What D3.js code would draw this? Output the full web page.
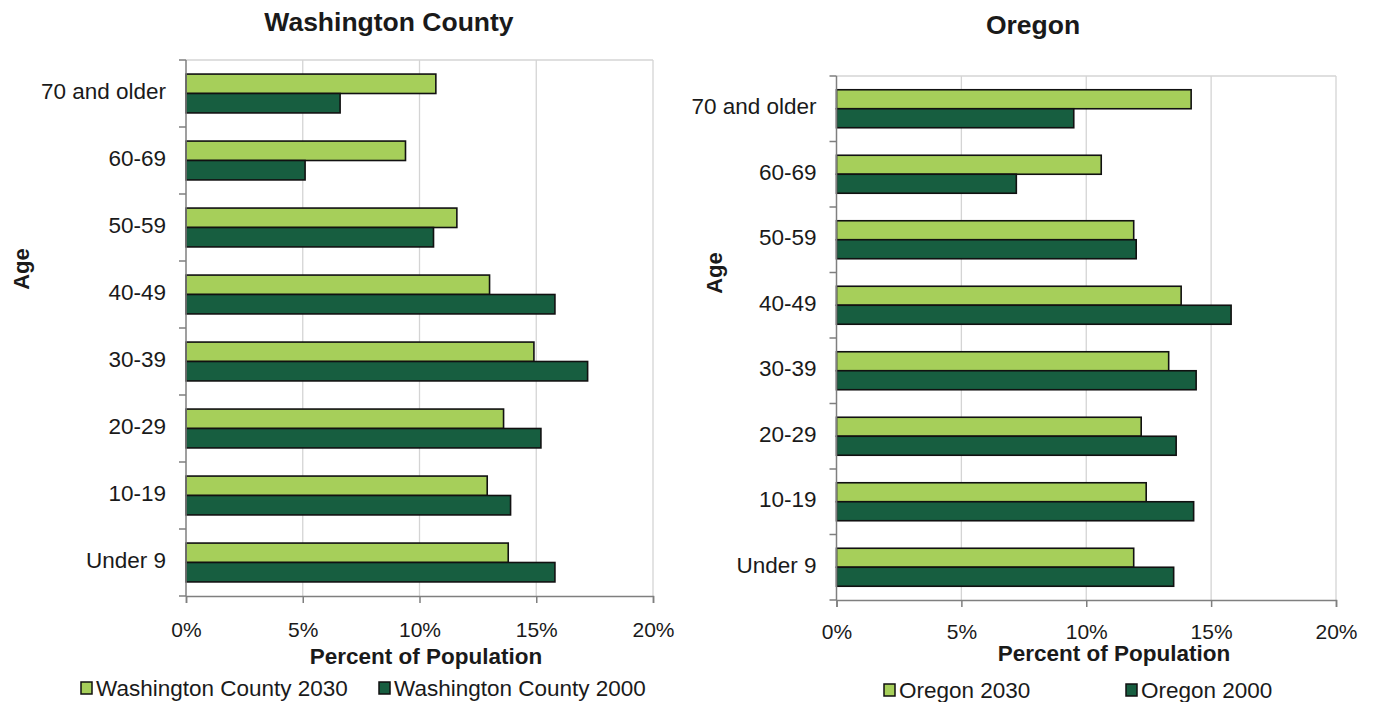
<!DOCTYPE html>
<html>
<head>
<meta charset="utf-8">
<script src="https://cdn.jsdelivr.net/npm/d3@7"></script>
<style>
  html, body { margin: 0; padding: 0; background: #fff; }
  svg { display: block; font-family: "Liberation Sans", Arial, sans-serif; }
</style>
</head>
<body>
<svg id="chart" width="1375" height="702"></svg>
<script>
// Age groups, top to bottom
const ageGroups = ["70 and older", "60-69", "50-59", "40-49", "30-39", "20-29", "10-19", "Under 9"];

// Percent of population by age group
const washington2030 = [10.7, 9.4, 11.6, 13.0, 14.9, 13.6, 12.9, 13.8];
const washington2000 = [6.6, 5.1, 10.6, 15.8, 17.2, 15.2, 13.9, 15.8];
const oregon2030 = [14.2, 10.6, 11.9, 13.8, 13.3, 12.2, 12.4, 11.9];
const oregon2000 = [9.5, 7.2, 12.0, 15.8, 14.4, 13.6, 14.3, 13.5];

const percentTicks = [0, 5, 10, 15, 20];

const lightGreen = "#A6CF5A";
const darkGreen = "#175E40";
const axisColor = "#7f7f7f";
const gridColor = "#d4d4d4";
const textColor = "#1a1a1a";

const svg = d3.select("#chart");

function drawPanel(p) {
  const g = svg.append("g");

  const x = d3.scaleLinear().domain([0, 20]).range([p.left, p.right]);
  const y = d3.scaleBand().domain(ageGroups).range([p.top, p.bottom])
    .paddingInner(0.42).paddingOuter(0.21);
  const sub = d3.scaleBand().domain([0, 1]).range([0, y.bandwidth()]);

  // vertical gridlines
  g.append("g").selectAll("line").data(percentTicks.slice(1)).join("line")
    .attr("x1", d => x(d)).attr("x2", d => x(d))
    .attr("y1", p.top).attr("y2", p.bottom)
    .attr("stroke", gridColor).attr("stroke-width", 1.3);

  // top border of plot area
  g.append("line")
    .attr("x1", p.left).attr("x2", p.right)
    .attr("y1", p.top).attr("y2", p.top)
    .attr("stroke", gridColor).attr("stroke-width", 1.3);

  // bars
  const rows = ageGroups.map((a, i) => ({ age: a, vals: [p.series[0].values[i], p.series[1].values[i]] }));
  const grp = g.append("g").selectAll("g").data(rows).join("g")
    .attr("transform", d => `translate(0,${y(d.age)})`);
  grp.selectAll("rect").data(d => d.vals.map((v, k) => ({ v, k }))).join("rect")
    .attr("x", x(0))
    .attr("y", d => sub(d.k))
    .attr("width", d => x(d.v) - x(0))
    .attr("height", sub.bandwidth())
    .attr("fill", d => p.series[d.k].color)
    .attr("stroke", "#111")
    .attr("stroke-width", 1.6);

  // y axis with ticks on category boundaries
  const boundaries = d3.range(ageGroups.length + 1).map(i => p.top + i * y.step());
  const ya = g.append("g");
  ya.append("line")
    .attr("x1", p.left).attr("x2", p.left)
    .attr("y1", p.top).attr("y2", p.bottom)
    .attr("stroke", axisColor).attr("stroke-width", 1.5);
  ya.selectAll("line.tk").data(boundaries).join("line").attr("class", "tk")
    .attr("x1", p.left - 7).attr("x2", p.left)
    .attr("y1", d => d).attr("y2", d => d)
    .attr("stroke", axisColor).attr("stroke-width", 1.5);
  ya.selectAll("text").data(ageGroups).join("text")
    .attr("x", p.left - 20)
    .attr("y", d => y(d) + y.bandwidth() / 2 - 2)
    .attr("text-anchor", "end")
    .attr("dominant-baseline", "central")
    .attr("font-size", 22.5)
    .attr("fill", textColor)
    .text(d => d);

  // x axis
  const xa = g.append("g").attr("transform", `translate(0,${p.bottom})`)
    .call(d3.axisBottom(x).tickValues(percentTicks).tickSize(7).tickFormat(d => d + "%"));
  xa.select(".domain").attr("stroke", axisColor).attr("stroke-width", 1.5);
  xa.selectAll(".tick line").attr("stroke", axisColor).attr("stroke-width", 1.5);
  xa.selectAll(".tick text")
    .attr("font-size", 21).attr("fill", textColor)
    .attr("font-family", "Liberation Sans, Arial, sans-serif")
    .attr("dy", null).attr("y", p.tickLabelY - p.bottom);

  // titles
  g.append("text")
    .attr("x", p.titleX).attr("y", p.titleY)
    .attr("text-anchor", "middle").attr("font-size", 26.5).attr("font-weight", "bold")
    .attr("fill", textColor).text(p.title);
  g.append("text")
    .attr("x", p.xTitleX).attr("y", p.xTitleY)
    .attr("text-anchor", "middle").attr("font-size", 22.5).attr("font-weight", "bold")
    .attr("fill", textColor).text("Percent of Population");
  g.append("text")
    .attr("transform", `translate(${p.ageX},${p.ageY}) rotate(-90)`)
    .attr("text-anchor", "middle").attr("font-size", 22).attr("font-weight", "bold")
    .attr("fill", textColor).text("Age");

  // legend
  const lg = g.append("g").selectAll("g").data(p.series).join("g")
    .attr("transform", (d, i) => `translate(${p.legendX[i]},${p.legendY})`);
  lg.append("rect")
    .attr("x", 0).attr("y", -6).attr("width", 11).attr("height", 12)
    .attr("fill", d => d.color).attr("stroke", "#111").attr("stroke-width", 1.5);
  lg.append("text")
    .attr("x", 15).attr("y", 0)
    .attr("dominant-baseline", "central")
    .attr("font-size", 22.5).attr("fill", textColor)
    .text(d => d.name);
}

drawPanel({
  title: "Washington County",
  left: 186, right: 653, top: 60, bottom: 596,
  titleX: 389, titleY: 31,
  xTitleX: 426, xTitleY: 664,
  tickLabelY: 637,
  ageX: 29, ageY: 269,
  legendX: [81, 379], legendY: 688,
  series: [
    { name: "Washington County 2030", values: washington2030, color: lightGreen },
    { name: "Washington County 2000", values: washington2000, color: darkGreen }
  ]
});

drawPanel({
  title: "Oregon",
  left: 836.5, right: 1336, top: 76, bottom: 600,
  titleX: 1033, titleY: 34,
  xTitleX: 1114, xTitleY: 661,
  tickLabelY: 639,
  ageX: 722, ageY: 273,
  legendX: [884, 1126], legendY: 690,
  series: [
    { name: "Oregon 2030", values: oregon2030, color: lightGreen },
    { name: "Oregon 2000", values: oregon2000, color: darkGreen }
  ]
});
</script>
</body>
</html>
